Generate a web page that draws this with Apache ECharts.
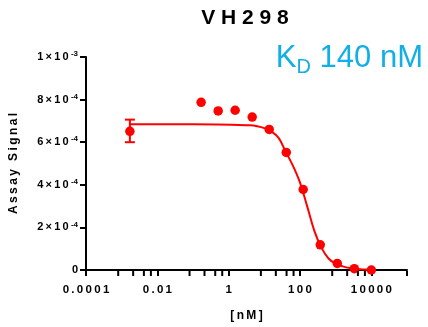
<!DOCTYPE html>
<html><head><meta charset="utf-8">
<script src="https://cdn.jsdelivr.net/npm/echarts@6/dist/echarts.min.js"></script>
<style>html,body{margin:0;padding:0;background:#fff}#c{width:428px;height:327px}</style>
</head><body><div id="c"></div>
<script>
// ---- data ----
const concentrationsNM = [0.0017, 0.169, 0.508, 1.52, 4.57, 13.7, 41.2, 123, 370, 1111, 3333, 10000];
const assaySignal = [6.51e-4, 7.87e-4, 7.47e-4, 7.50e-4, 7.18e-4, 6.60e-4, 5.52e-4, 3.78e-4, 1.18e-4, 0.31e-4, 0.06e-4, 0.0];
const errorBarX = [0.0017];
const errorBarLow = [6.0e-4];
const errorBarHigh = [7.06e-4];
const fitCurveX = [0.0017, 0.1, 3.98, 6.31, 10, 15.85, 25.12, 39.81, 63.1, 100, 158.5, 251.2, 398.1, 631, 1000, 1585, 2512, 3981, 10000];
const fitCurveY = [6.84e-4, 6.84e-4, 6.79e-4, 6.75e-4, 6.66e-4, 6.50e-4, 6.20e-4, 5.55e-4, 4.90e-4, 4.10e-4, 3.00e-4, 1.85e-4, 1.05e-4, 0.54e-4, 0.30e-4, 0.17e-4, 0.09e-4, 0.05e-4, 0.01e-4];
const xMajorTicks = [1e-4, 1e-2, 1, 100, 1e4];
const xMinorTicks = [8e-4, 2.1e-3, 4.2e-3, 6.6e-3, 8e-2, 0.21, 0.42, 0.66, 8, 21, 42, 66, 800, 2100, 4200, 6600, 1e5];
const yTicks = [0, 2e-4, 4e-4, 6e-4, 8e-4, 1e-3];
const titleText = 'VH298';
const kdValue = '140 nM';
const xName = '[nM]';
const yName = 'Assay Signal';

const RED = '#ff0000';
const BLUE = '#12aee8';
const FONT = '"Liberation Sans", Arial, sans-serif';
const spaced = s => s.split('').join('\u2009');

const chart = echarts.init(document.getElementById('c'), null, {renderer: 'canvas'});

function yLabel(v) {
  if (Math.abs(v) < 1e-12) return '{m|0}';
  const e = Math.floor(Math.log10(v) + 1e-9);
  const m = Math.round(v / Math.pow(10, e));
  return '{m|' + spaced(m + '×10') + '}{e| ' + e + '}';
}

const option = {
  animation: false,
  backgroundColor: '#fff',
  grid: {left: 85, right: 21, top: 57, bottom: 55.3, containLabel: false},
  graphic: [
    {type: 'text', silent: true, z: 10, x: 245, y: 18,
     style: {text: titleText.split('').join(' '), font: 'bold 21px ' + FONT, fill: '#000', textAlign: 'center', textVerticalAlign: 'middle'}},
    {type: 'text', silent: true, z: 10, x: 423, y: 40,
     style: {text: '{k|K}{d|D}{n| ' + kdValue + '}', textAlign: 'right', textVerticalAlign: 'top', fill: BLUE,
       rich: {
         k: {fontFamily: FONT, fontSize: 31, fill: BLUE, lineHeight: 34, verticalAlign: 'bottom'},
         d: {fontFamily: FONT, fontSize: 20, fill: BLUE, lineHeight: 24, verticalAlign: 'bottom', padding: [0, 0, -3, 0]},
         n: {fontFamily: FONT, fontSize: 31, fill: BLUE, lineHeight: 34, verticalAlign: 'bottom'}
       }}}
  ],
  xAxis: {
    type: 'log', logBase: 10, min: 1e-4, max: 1e5,
    name: spaced(xName), nameLocation: 'middle', nameGap: 40,
    nameTextStyle: {fontFamily: FONT, fontWeight: 'bold', fontSize: 12, color: '#000'},
    axisLine: {show: true, onZero: false, lineStyle: {color: '#000', width: 2}},
    axisTick: {show: true, length: 6, lineStyle: {color: '#000', width: 2}, customValues: xMajorTicks},
    axisLabel: {customValues: xMajorTicks, margin: 14, fontFamily: FONT, fontWeight: 'bold', fontSize: 11.5, color: '#000',
      formatter: v => spaced(String(Number(Number(v).toPrecision(6))))},
    splitLine: {show: false}, minorTick: {show: false}
  },
  yAxis: {
    type: 'value', min: 0, max: 1e-3, interval: 2e-4,
    name: spaced(yName), nameLocation: 'middle', nameGap: 66, nameRotate: 90,
    nameTextStyle: {fontFamily: FONT, fontWeight: 'bold', fontSize: 12, color: '#000'},
    axisLine: {show: true, lineStyle: {color: '#000', width: 2}},
    axisTick: {show: true, length: 6, lineStyle: {color: '#000', width: 2}, customValues: yTicks},
    axisLabel: {customValues: yTicks, margin: 8, formatter: yLabel,
      rich: {
        m: {fontFamily: FONT, fontWeight: 'bold', fontSize: 11, color: '#000', verticalAlign: 'middle'},
        e: {fontFamily: FONT, fontWeight: 'bold', fontSize: 8, color: '#000', verticalAlign: 'top', padding: [0, 0, 6, 0]}
      }},
    splitLine: {show: false}
  },
  series: [
    {type: 'scatter', name: 'minor ticks', silent: true, clip: false, z: 5,
     symbol: 'rect', symbolSize: [2, 5], symbolOffset: [0, 3.5],
     itemStyle: {color: '#000', opacity: 1},
     data: xMinorTicks.map(v => [v, 0])},
    {type: 'line', name: 'fit', smooth: 0.4, showSymbol: false, symbol: 'none',
     lineStyle: {color: RED, width: 2}, z: 2,
     data: fitCurveX.map((x, i) => [x, fitCurveY[i]])},
    {type: 'custom', name: 'err', z: 3,
     data: errorBarX.map((x, i) => [x, errorBarLow[i], errorBarHigh[i]]),
     encode: {x: 0, y: [1, 2]},
     renderItem: (params, api) => {
       const x = api.value(0);
       const lo = api.coord([x, api.value(1)]);
       const hi = api.coord([x, api.value(2)]);
       const w = 5;
       const st = {stroke: RED, lineWidth: 2};
       return {type: 'group', children: [
         {type: 'line', shape: {x1: lo[0], y1: lo[1], x2: hi[0], y2: hi[1]}, style: st},
         {type: 'line', shape: {x1: lo[0] - w, y1: lo[1], x2: lo[0] + w, y2: lo[1]}, style: st},
         {type: 'line', shape: {x1: hi[0] - w, y1: hi[1], x2: hi[0] + w, y2: hi[1]}, style: st}
       ]};
     }},
    {type: 'scatter', name: 'data', symbol: 'circle', symbolSize: 9.5, z: 4,
     itemStyle: {color: RED, opacity: 1},
     data: concentrationsNM.map((x, i) => [x, assaySignal[i]])}
  ]
};
chart.setOption(option);
</script>
</body></html>
